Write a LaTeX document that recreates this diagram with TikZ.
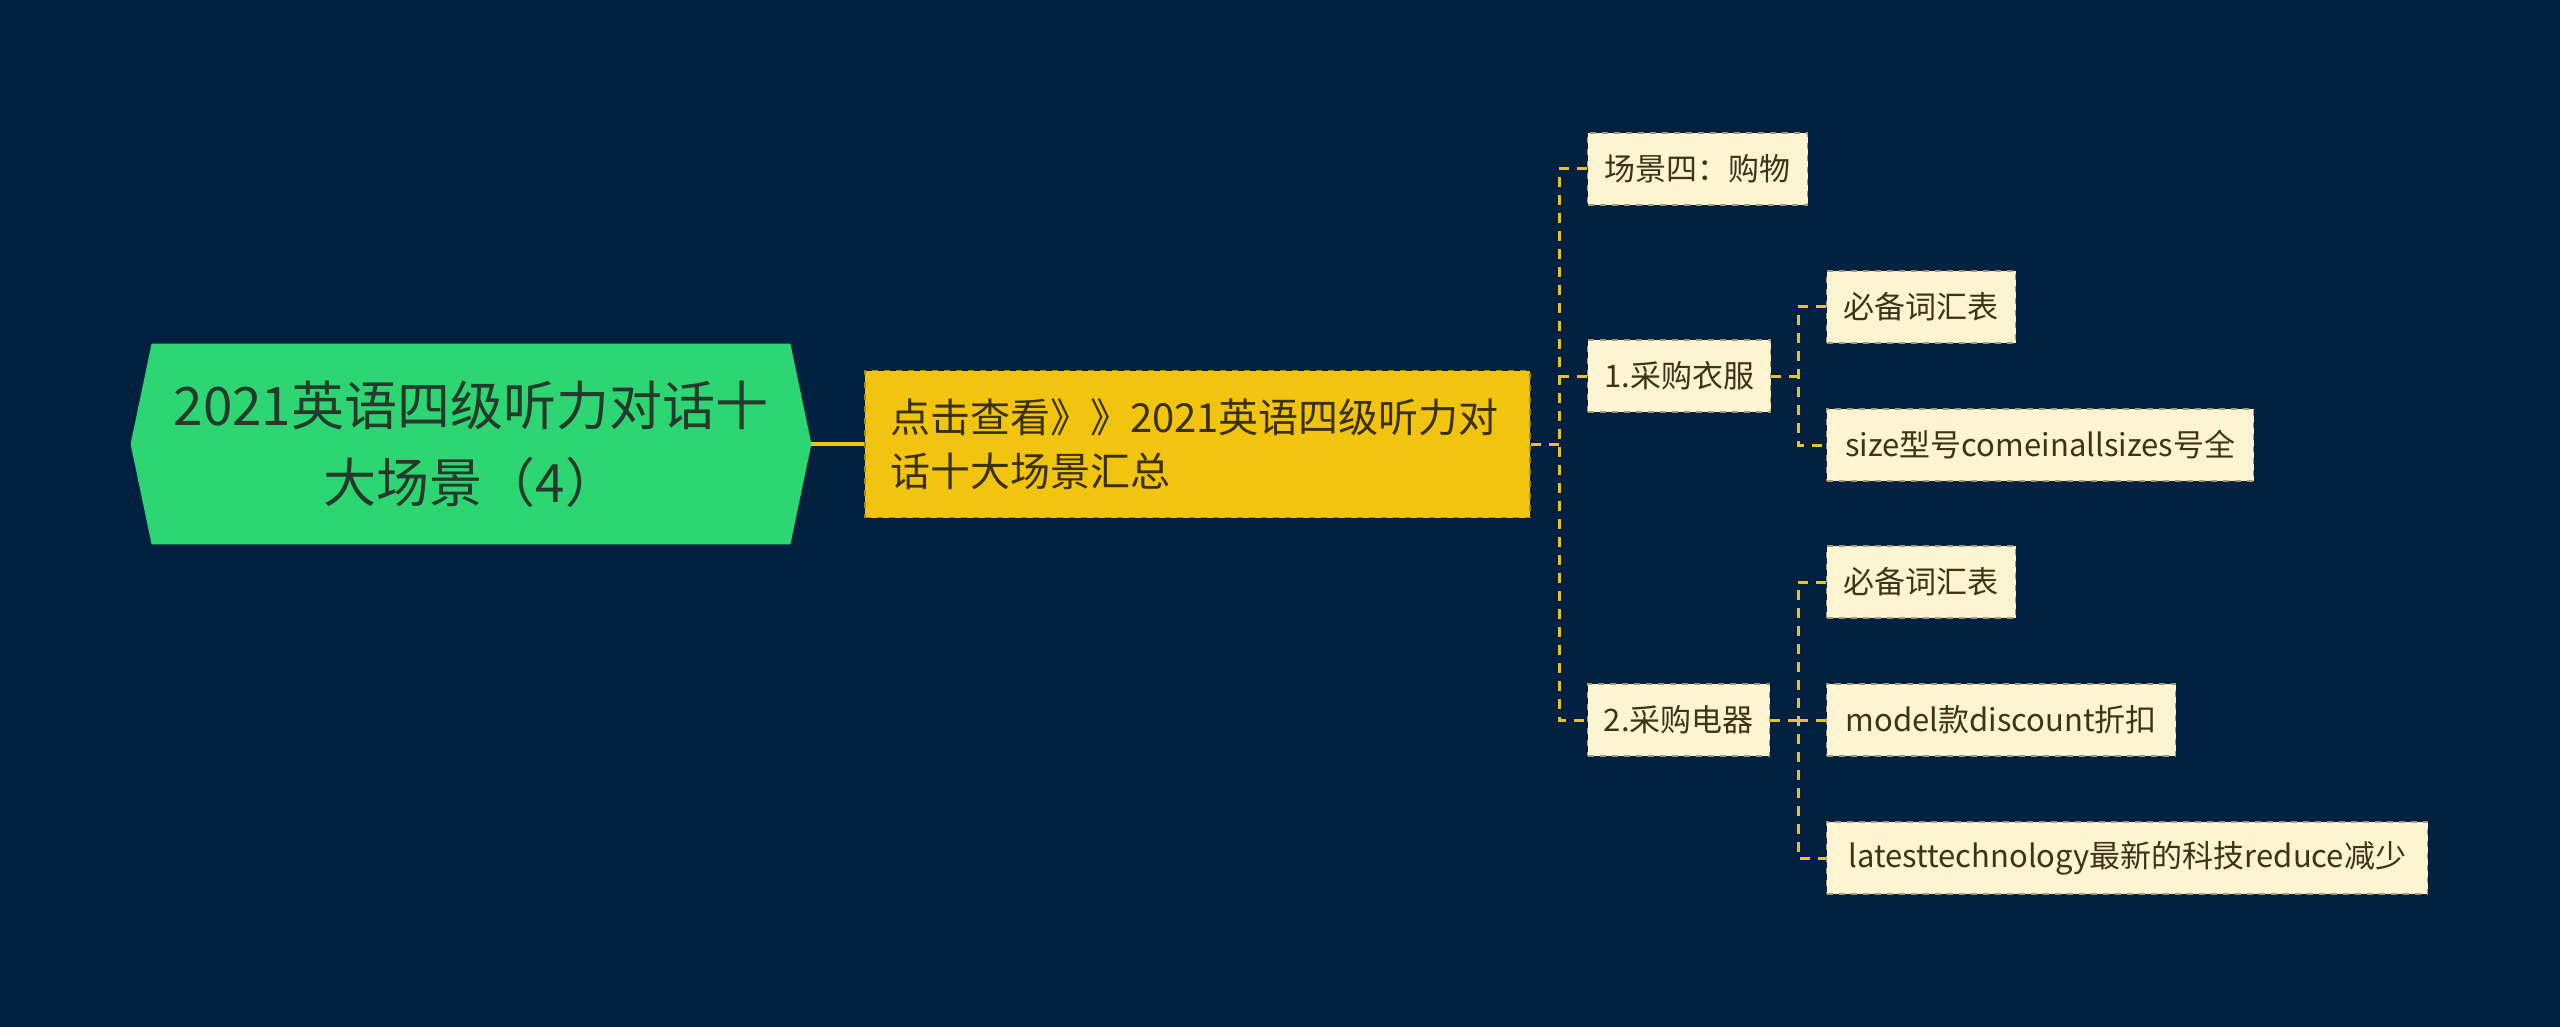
\documentclass[tikz,border=0pt]{standalone}
\usepackage{fontspec}
\setmainfont{Noto Sans CJK SC}
\usetikzlibrary{calc,backgrounds}
\definecolor{bgc}{HTML}{02203F}
\definecolor{rootgreen}{HTML}{2ED573}
\definecolor{roottext}{HTML}{263A2C}
\definecolor{mainyellow}{HTML}{F1C40F}
\definecolor{mainborder}{HTML}{A5870C}
\definecolor{maintext}{HTML}{3A3000}
\definecolor{leaffill}{HTML}{FDF4D2}
\definecolor{leafborder}{HTML}{A89A70}
\definecolor{leaftext}{HTML}{3B3417}
\definecolor{connc}{HTML}{E6C22C}
\begin{document}
\begin{tikzpicture}[x=0.5pt,y=-0.5pt,
  rootbox/.style={minimum width=319pt,minimum height=100pt,inner sep=0pt,align=center,
    text=roottext,font=\fontsize{26.5}{38.5}\selectfont},
  mainbox/.style={fill=mainyellow,draw=mainborder,dashed,line width=0.8pt,
    minimum height=73.5pt,inner xsep=12.5pt,text width=307.5pt,align=left,
    text=maintext,font=\fontsize{20}{27}\selectfont},
  leafbox/.style={fill=leaffill,draw=leafborder,dashed,line width=0.7pt,
    minimum height=36pt,inner xsep=0pt,anchor=west,
    text=leaftext,font=\fontsize{15.5}{18}\selectfont},
  conn/.style={draw=connc,line width=1.5pt,dash pattern=on 5pt off 4pt},
  solidconn/.style={draw=mainyellow,line width=2pt}]
\useasboundingbox (0,0) rectangle (2560,1027);

\node[rootbox] (root) at (471,444) {2021英语四级听力对话十\\大场景（4）};
\node[mainbox] (main) at (1197.5,444) {点击查看》》2021英语四级听力对\\话十大场景汇总};

\node[leafbox,minimum width=110pt] (s4) at (1587,169) {场景四：购物};
\node[leafbox,minimum width=91.5pt] (c1) at (1587,376) {1.采购衣服};
\node[leafbox,minimum width=91pt] (c2) at (1587,720) {2.采购电器};

\node[leafbox,minimum width=94.5pt] (l1) at (1826,307) {必备词汇表};
\node[leafbox,minimum width=213.5pt] (l2) at (1826,445) {size型号comeinallsizes号全};
\node[leafbox,minimum width=94.5pt] (l3) at (1826,582) {必备词汇表};
\node[leafbox,minimum width=174.5pt] (l4) at (1826,720) {model款discount折扣};
\node[leafbox,minimum width=300.5pt] (l5) at (1826,858) {latesttechnology最新的科技reduce减少};

\coordinate (sp1) at (1559,444);
\coordinate (sp2) at (1798,376);
\coordinate (sp3) at (1798,720);
\coordinate (rtip) at ($(root.east)+(21,0)$);

\begin{scope}[on background layer]
  \fill[bgc] (0,0) rectangle (2560,1027);
  \fill[rootgreen] (root.north west) -- (root.north east) -- (rtip)
    -- (root.south east) -- (root.south west) -- ($(root.west)+(-21,0)$) -- cycle;
\end{scope}

\draw[solidconn] (rtip) -- (main.west);

\draw[conn] (main.east) -- (sp1);
\draw[conn] (s4.west) -| (c2.west -| sp1) -- (c2.west);
\draw[conn] (c1.west) -- (c1.west -| sp1);

\draw[conn] (c1.east) -- (sp2);
\draw[conn] (l1.west) -| (l2.west -| sp2) -- (l2.west);

\draw[conn] (c2.east) -- (sp3);
\draw[conn] (l3.west) -| (l5.west -| sp3) -- (l5.west);
\draw[conn] (l4.west) -- (l4.west -| sp3);
\end{tikzpicture}
\end{document}
